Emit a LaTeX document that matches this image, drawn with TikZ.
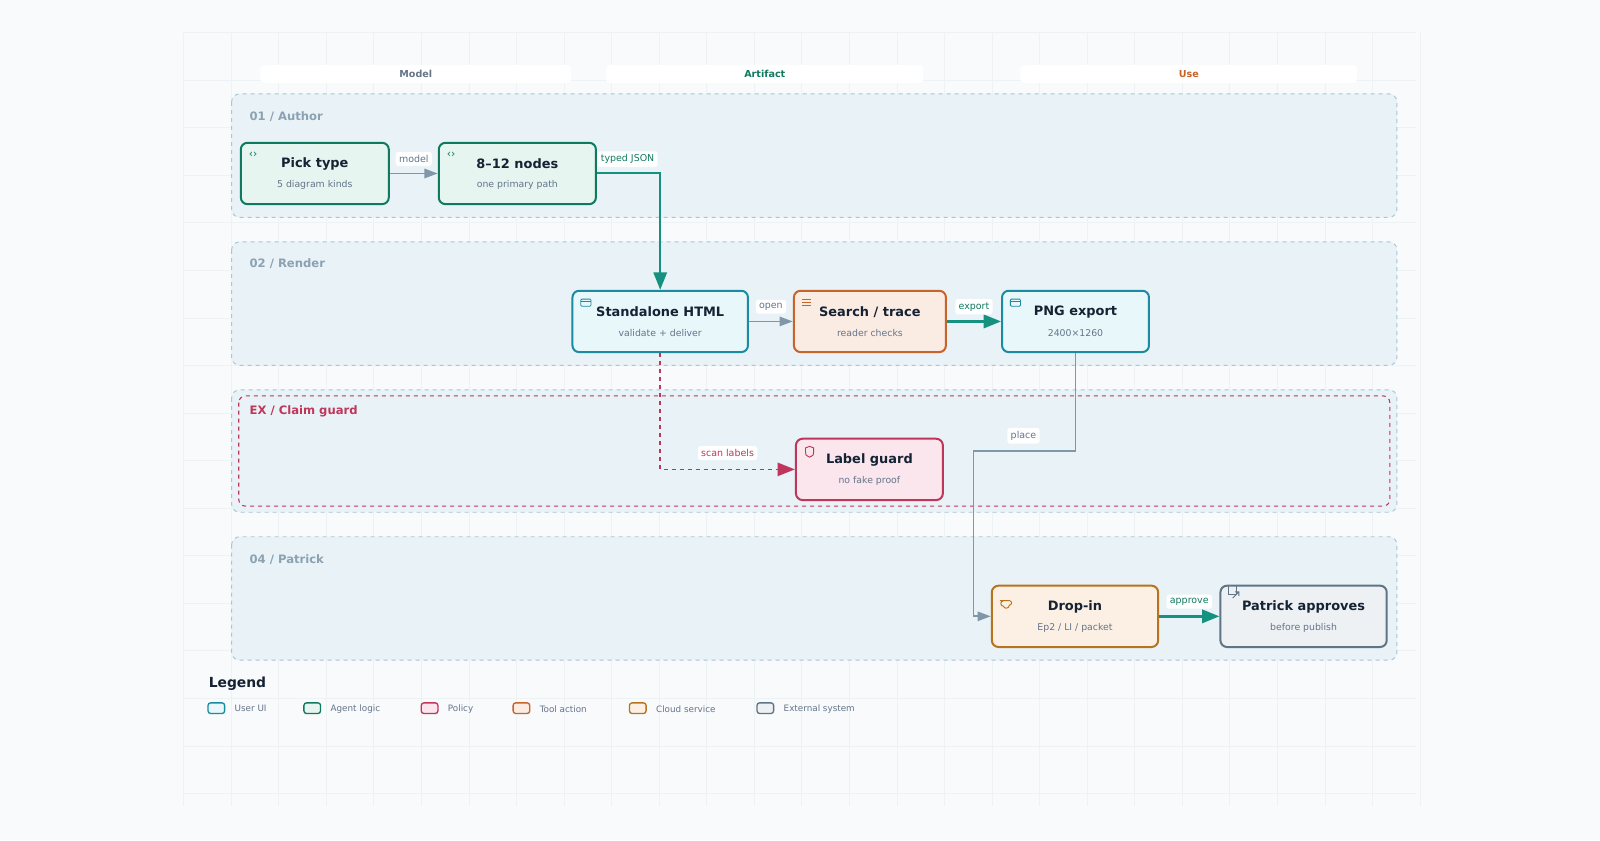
\documentclass[tikz,border=0pt]{standalone}
\usepackage{fontspec}
\setmainfont{DejaVu Sans}
\usetikzlibrary{arrows.meta}
\definecolor{bg}{HTML}{F8FAFB}
\definecolor{gridc}{HTML}{EDF2F5}
\definecolor{lanef}{HTML}{E8F2F7}
\definecolor{lanes}{HTML}{A9C6D4}
\definecolor{lanet}{HTML}{8BA2B2}
\definecolor{uif}{HTML}{E7F7FA}\definecolor{uis}{HTML}{1A8BA0}
\definecolor{agf}{HTML}{E6F5EF}\definecolor{ags}{HTML}{0F7A5F}
\definecolor{pof}{HTML}{FAE6EC}\definecolor{polc}{HTML}{C0365A}
\definecolor{tof}{HTML}{FBECE3}\definecolor{tos}{HTML}{C8632A}
\definecolor{clf}{HTML}{FBF0E3}\definecolor{cls}{HTML}{B8731F}
\definecolor{exf}{HTML}{EEF1F4}\definecolor{exs}{HTML}{5F7485}
\definecolor{ink}{HTML}{142233}\definecolor{sub}{HTML}{64748B}
\definecolor{grayc}{HTML}{7F97A8}\definecolor{teal}{HTML}{14917F}
\definecolor{usec}{HTML}{C8632A}
\tikzset{
 x=0.7653pt,y=-0.7653pt,
 box/.style={draw, line width=1.5pt, rounded corners=5pt, minimum width=#1*0.7653pt, minimum height=46pt, align=center, inner sep=0pt},
 ttl/.style={font=\bfseries\fontsize{9.7}{11}\selectfont, text=ink},
 sbt/.style={font=\fontsize{7}{8}\selectfont, text=sub},
 lane/.style={draw=lanes, fill=lanef, dashed, rounded corners=6pt, line width=0.7pt},
 lanelab/.style={font=\bfseries\fontsize{8.7}{10}\selectfont, text=lanet, anchor=west},
 elab/.style={fill=white, rounded corners=2pt, font=\fontsize{7.1}{8}\selectfont, inner sep=2.5pt},
 pill/.style={fill=white, rounded corners=3pt, font=\bfseries\fontsize{7.2}{8}\selectfont, minimum height=13.5pt},
 garr/.style={draw=grayc, line width=1.4pt, -{Triangle[length=10pt,width=7pt]}},
 tarr/.style={draw=teal, line width=1.8pt, -{Triangle[length=13pt,width=10pt]}},
 lg/.style={draw, line width=1pt, rounded corners=2pt, minimum width=12.5pt, minimum height=8pt, inner sep=0pt},
 lgt/.style={font=\fontsize{6.6}{8}\selectfont, text=sub, anchor=west},
}
\begin{document}
\begin{tikzpicture}
\fill[bg] (0,0) rectangle (1568,823.2);
\foreach \i in {0,...,26}{\draw[gridc,line width=0.6pt] (180+46.6*\i,32) -- (180+46.6*\i,790);}
\foreach \j in {0,...,16}{\draw[gridc,line width=0.6pt] (180,32+46.6*\j) -- (1388,32+46.6*\j);}
% headers
\node[pill,minimum width=233pt,text=sub] (hm) at (407.5,72.5) {Model};
\node[pill,minimum width=238pt,text=ags] (ha) at (749.5,72.5) {Artifact};
\node[pill,minimum width=252.5pt,text=usec] (hu) at (1165,72.5) {Use};
% lanes
\draw[lane] (227,92) rectangle (1369,213);
\draw[lane] (227,237) rectangle (1369,358);
\draw[lane] (227,382) rectangle (1369,502);
\draw[polc,dashed,rounded corners=5pt,line width=0.8pt] (234,388) rectangle (1362,496);
\draw[lane] (227,526) rectangle (1369,647);
\node[lanelab] (l1) at (240,114) {01 / Author};
\node[lanelab] (l2) at (240,258) {02 / Render};
\node[lanelab,text=polc] (l3) at (240,403) {EX / Claim guard};
\node[lanelab] (l4) at (240,548) {04 / Patrick};
% nodes
\node[box=145,draw=ags,fill=agf] (pick) at (308.5,170) {};
\node[box=154,draw=ags,fill=agf] (nodes) at (507,170) {};
\node[box=172,draw=uis,fill=uif] (html) at (647,315) {};
\node[box=149,draw=tos,fill=tof] (search) at (852.5,315) {};
\node[box=144,draw=uis,fill=uif] (png) at (1054,315) {};
\node[box=144,draw=polc,fill=pof] (guard) at (852,460) {};
\node[box=163,draw=cls,fill=clf] (drop) at (1053.5,604) {};
\node[box=163,draw=exs,fill=exf] (pat) at (1277.5,604) {};
\foreach \n/\t/\s in {pick/Pick type/5 diagram kinds, nodes/8–12 nodes/one primary path, html/Standalone HTML/validate + deliver, search/{Search / trace}/reader checks, png/PNG export/2400×1260, guard/Label guard/no fake proof, drop/Drop-in/{Ep2 / LI / packet}, pat/Patrick approves/before publish}{
 \node[ttl] at ([yshift=7pt]\n.center) {\t};
 \node[sbt] at ([yshift=-8.6pt]\n.center) {\s};}
% icons
\foreach \n in {pick,nodes}{\node[text=ags,font=\fontsize{8}{8}\selectfont] at ([xshift=10pt,yshift=-10pt]\n.north west) {‹›};}
\foreach \n in {html,png}{\draw[uis,line width=0.6pt,rounded corners=0.8pt] ([xshift=7pt,yshift=-7pt]\n.north west) rectangle ++(10,7); \draw[uis,line width=0.6pt] ([xshift=7pt,yshift=-9pt]\n.north west) -- ++(10,0);}
\foreach \k in {0,3,6}{\draw[tos,line width=0.7pt] ([xshift=7pt,yshift=-7pt-\k*0.75pt]search.north west) -- ++(9,0);}
\draw[polc,line width=0.7pt] ([xshift=11pt,yshift=-6.5pt]guard.north west) -- ++(4,1.5) -- ++(0,4) .. controls ++(0,3) .. ++(-4,5) .. controls ++(-4,-2) .. ++(-4,-5) -- ++(0,-4) -- cycle;
\draw[cls,line width=0.7pt] ([xshift=7pt,yshift=-12pt]drop.north west) -- ++(9,0) arc(-90:90:2.2) arc(0:160:3) arc(90:270:2.6) ;
\draw[exs,line width=0.7pt] ([xshift=7pt,yshift=-7pt]pat.north west) rectangle ++(8,-8);
\draw[exs,line width=0.7pt] ([xshift=10pt,yshift=-10pt]pat.north west) -- ++(6,-6) ++(-4,0) -- ++(4,0) -- ++(0,4);
% edges
\draw[garr] (pick) -- (nodes) node[midway,elab,text=sub,yshift=11pt] {model};
\draw[draw=teal,line width=1.5pt,-{Triangle[length=13pt,width=10pt]}] (nodes.east) -| (html.north);
\node[elab,text=ags] at (615,156) {typed JSON};
\draw[garr] (html) -- (search) node[midway,elab,text=sub,yshift=11pt] {open};
\draw[tarr] (search) -- (png) node[midway,elab,text=ags,yshift=11pt] {export};
\draw[draw=polc,line width=1.3pt,dashed,-{Triangle[length=13pt,width=10pt]}] (html.south) |- (guard.west);
\node[elab,text=polc] at (713,444) {scan labels};
\coordinate (p1) at (1054,442); \coordinate (p2) at (954,442);
\draw[draw=grayc,line width=1.4pt,-{Triangle[length=10pt,width=7pt]}] (png.south) -- (p1) -- (p2) |- (drop.west);
\node[elab,text=sub] at (1003,427) {place};
\draw[tarr] (drop) -- (pat) node[midway,elab,text=ags,yshift=11pt] {approve};
% legend
\node[font=\bfseries\fontsize{10.4}{12}\selectfont,text=ink,anchor=west] (leg) at (200,670) {Legend};
\foreach \x/\f/\s/\t in {212/uif/uis/User UI, 306/agf/ags/Agent logic, 421/pof/polc/Policy, 511/tof/tos/Tool action, 625/clf/cls/Cloud service, 750/exf/exs/External system}{
 \node[lg,draw=\s,fill=\f] (k\x) at (\x,694) {};
 \node[lgt] at ([xshift=3.5pt,yshift=-0.5pt]k\x.east) {\t};}
\pgfresetboundingbox
\useasboundingbox (0,0) rectangle (1200pt,-630pt);
\end{tikzpicture}
\end{document}
